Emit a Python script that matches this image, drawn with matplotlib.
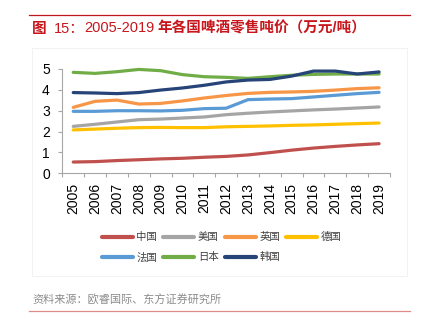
import matplotlib
matplotlib.use("Agg")
import matplotlib.pyplot as plt
from matplotlib.lines import Line2D
from matplotlib.patches import Rectangle

plt.rcParams['font.family'] = ['Liberation Sans', 'Noto Sans CJK SC', 'DejaVu Sans']

years = [str(y) for y in range(2005, 2020)]

china   = [0.54, 0.56, 0.61, 0.65, 0.69, 0.72, 0.77, 0.81, 0.88, 0.99, 1.11, 1.21, 1.29, 1.36, 1.42]
usa     = [2.25, 2.35, 2.46, 2.57, 2.60, 2.65, 2.70, 2.81, 2.88, 2.94, 2.99, 3.04, 3.08, 3.13, 3.18]
uk      = [3.16, 3.45, 3.51, 3.32, 3.35, 3.47, 3.61, 3.73, 3.83, 3.88, 3.90, 3.93, 3.99, 4.06, 4.10]
germany = [2.08, 2.12, 2.16, 2.19, 2.20, 2.19, 2.19, 2.23, 2.25, 2.27, 2.30, 2.32, 2.35, 2.38, 2.41]
france  = [2.97, 2.97, 3.00, 3.00, 2.99, 3.02, 3.10, 3.12, 3.53, 3.56, 3.58, 3.66, 3.74, 3.82, 3.88]
japan   = [4.84, 4.79, 4.87, 4.98, 4.92, 4.73, 4.63, 4.60, 4.55, 4.63, 4.70, 4.74, 4.76, 4.76, 4.76]
korea   = [3.87, 3.85, 3.82, 3.87, 3.99, 4.09, 4.22, 4.38, 4.47, 4.50, 4.66, 4.90, 4.90, 4.76, 4.86]

series = [
    ("中国", china, "#C0504D"),
    ("美国", usa, "#A5A5A5"),
    ("英国", uk, "#F79646"),
    ("德国", germany, "#FFC000"),
    ("法国", france, "#5B9BD5"),
    ("日本", japan, "#70AD47"),
    ("韩国", korea, "#264478"),
]

W, H = 423, 323
fig = plt.figure(figsize=(W / 100, H / 100), dpi=100)

def fx(px):
    return px / W

def fy(py):
    return 1 - py / H

# header rule and title (CJK in bold, numerals in regular weight)
fig.add_artist(Line2D([fx(29), fx(410)], [fy(15), fy(15)], color="#C0161D", lw=0.9))
title_red = "#C8161D"
title_parts = [
    (32, "图", "bold"),
    (54, "15：", "normal"),
    (84, "2005-2019", "normal"),
    (157, "年各国啤酒零售吨价（万元/吨）", "bold"),
]
for px, txt, wt in title_parts:
    fig.text(fx(px), fy(28.5), txt, color=title_red, fontsize=10.5, fontweight=wt,
             va="center", ha="left")

# faint chart frame
fig.add_artist(Rectangle((fx(31.5), fy(276)), fx(407) - fx(31.5), fy(48) - fy(276),
                         transform=fig.transFigure, fill=False, ec="#F0F0F0", lw=0.6))

ax = fig.add_axes([fx(62.3), fy(173.3), fx(390) - fx(62.3), fy(69) - fy(173.3)])
x = list(range(len(years)))
lines = {}
for name, vals, col in series:
    ln, = ax.plot(x, vals, color=col, lw=2.3, solid_capstyle="round",
                  solid_joinstyle="round", clip_on=False, label=name)
    lines[name] = ln

ax.set_xlim(-0.5, len(years) - 0.5)
ax.set_ylim(0, 5)
ax.set_yticks(range(0, 6))
ax.set_xticks(x)
ax.set_xticklabels(years, rotation=90, fontsize=10)
ax.set_xticks([i - 0.5 for i in range(len(years) + 1)], minor=True)
ax.tick_params(axis="x", which="major", length=0, pad=7)
ax.tick_params(axis="x", which="minor", length=3, color="#A6A6A6", width=0.8, direction="out")
ax.tick_params(axis="y", length=3, color="#A6A6A6", width=0.8, direction="out", pad=6, labelsize=10)
for s in ["top", "right"]:
    ax.spines[s].set_visible(False)
for s in ["left", "bottom"]:
    ax.spines[s].set_color("#A6A6A6")
    ax.spines[s].set_linewidth(0.8)
ax.patch.set_alpha(0)

# legend, laid out row by row in four columns
order = ["中国", "法国", "美国", "日本", "英国", "韩国", "德国"]
leg = fig.legend([lines[n] for n in order], order, loc="center",
                 bbox_to_anchor=(fx(221.7), fy(247.3)), ncol=4, frameon=False,
                 handlelength=3.0, handletextpad=0.33,
                 columnspacing=0.58, labelspacing=0.95, borderpad=0,
                 prop={"family": ["Noto Sans CJK SC"], "size": 7.5})
for h in leg.legend_handles:
    h.set_linewidth(3)
    h.set_solid_capstyle("round")
for t in leg.get_texts():
    t.set_color("#404040")

# source note and bottom rule
fig.text(fx(32), fy(300.5), "资料来源：欧睿国际、东方证券研究所", color="#8C8C8C",
         fontsize=8, va="center", ha="left", family=["Noto Sans CJK SC"])
fig.add_artist(Line2D([fx(29), fx(410)], [fy(311), fy(311)], color="#E08A8A", lw=0.9))

fig.savefig("out.png", dpi=100)
